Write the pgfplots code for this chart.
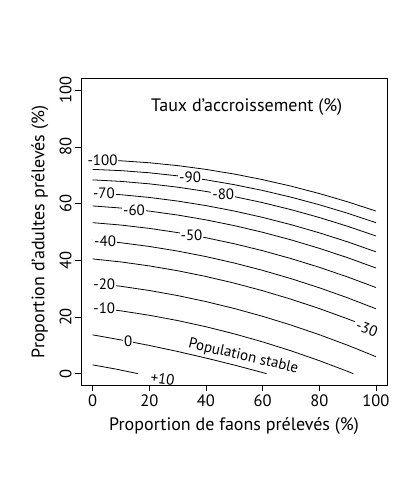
\documentclass[border=0pt]{standalone}
\usepackage{pgfplots}
\pgfplotsset{compat=1.18}
\usepackage{fontspec}
\setmainfont{PT Sans}
\begin{document}
\begin{tikzpicture}[font=\fontsize{15bp}{18bp}\selectfont]
\begin{axis}[name=ax, scale only axis, width=306bp, height=306bp,
 xmin=-4.1, xmax=103.9, ymin=-4, ymax=104,
 xtick={0,20,...,100}, ytick={0,20,...,100},
 tick pos=left,
 tick align=outside, major tick length=6bp,
 axis line style={line width=1pt}, tick style={black, line width=0.8pt},
 /pgf/number format/assume math mode=true,
 ticklabel style={font=\fontsize{16.5bp}{19bp}\selectfont},
 yticklabel style={rotate=90, anchor=south},
 label style={font=\fontsize{18bp}{21bp}\selectfont},
 xlabel={Proportion de faons prélevés (\%)},
 ylabel={Proportion d'adultes prélevés (\%)},
 xlabel style={at={(axis description cs:0.5,-0.134)}, anchor=center},
 ylabel style={at={(axis description cs:-0.134,0.5)}, anchor=center},
 clip=false,
]
\addplot[black, line width=0.8pt] coordinates {(0,75.5)(10,75.13)(20,74.44)(30,73.43)(40,72.10)(50,70.45)(60,68.48)(70,66.19)(80,63.58)(90,60.65)(100,57.4)};
\addplot[black, line width=0.8pt] coordinates {(0,72.1)(10,71.66)(20,70.90)(30,69.82)(40,68.42)(50,66.70)(60,64.66)(70,62.30)(80,59.62)(90,56.62)(100,53.3)};
\addplot[black, line width=0.8pt] coordinates {(0,68.4)(10,67.86)(20,67.00)(30,65.82)(40,64.32)(50,62.50)(60,60.36)(70,57.90)(80,55.12)(90,52.02)(100,48.6)};
\addplot[black, line width=0.8pt] coordinates {(0,63.8)(10,63.16)(20,62.20)(30,60.92)(40,59.32)(50,57.40)(60,55.16)(70,52.60)(80,49.72)(90,46.52)(100,43.0)};
\addplot[black, line width=0.8pt] coordinates {(0,59.2)(10,58.45)(20,57.38)(30,55.99)(40,54.28)(50,52.25)(60,49.90)(70,47.23)(80,44.24)(90,40.93)(100,37.3)};
\addplot[black, line width=0.8pt] coordinates {(0,53.3)(10,52.45)(20,51.28)(30,49.79)(40,47.98)(50,45.85)(60,43.40)(70,40.63)(80,37.54)(90,34.13)(100,30.4)};
\addplot[black, line width=0.8pt] coordinates {(0,47.2)(10,46.21)(20,44.90)(30,43.27)(40,41.32)(50,39.05)(60,36.46)(70,33.55)(80,30.32)(90,26.77)(100,22.9)};
\addplot[black, line width=0.8pt] coordinates {(0,40.5)(10,39.43)(20,38.04)(30,36.33)(40,34.30)(50,31.95)(60,29.28)(70,26.29)(80,22.98)(90,19.35)(92.6,18.35)};
\addplot[black, line width=0.8pt] coordinates {(0,32.0)(10,30.84)(20,29.36)(30,27.56)(40,25.44)(50,23.0)(60,20.24)(70,17.16)(80,13.76)(90,10.04)(100,6.0)};
\addplot[black, line width=0.8pt] coordinates {(0,23.4)(10,22.17)(20,20.62)(30,18.75)(40,16.56)(50,14.05)(60,11.22)(70,8.07)(80,4.60)(90,0.81)(92,0)};
\addplot[black, line width=0.8pt] coordinates {(0,13.7)(10,11.91)(20,9.96)(30,7.83)(40,5.52)(50,3.04)(60,0.39)(61.4,0)};
\addplot[black, line width=0.8pt] coordinates {(0,3.1)(8,1.66)(16,0)};
\begin{scope}[every node/.style={fill=white, inner sep=1pt}]
\node at (axis cs:3.5,75.4) {-100};
\node at (axis cs:34.4,69.24) {-90};
\node at (axis cs:46.1,63.2) {-80};
\node at (axis cs:4.0,63.6) {-70};
\node at (axis cs:14.6,57.8) {-60};
\node at (axis cs:34.9,48.9) {-50};
\node at (axis cs:4.4,46.8) {-40};
\node at (axis cs:4.1,31.6) {-20};
\node at (axis cs:4.1,23.0) {-10};
\node at (axis cs:12.6,11.4) {0};
\end{scope}
\node[rotate=-21, inner sep=1pt] at (axis cs:96.8,15.8) {-30};
\node[rotate=-8] at (axis cs:24.7,-1.9) {+10};
\node[rotate=-13] at (axis cs:53.2,6.0) {Population stable};
\node[font=\fontsize{18bp}{21bp}\selectfont] at (axis cs:54.4,94.2) {Taux d'accroissement (\%)};
\end{axis}
\path ([xshift=-81bp,yshift=-109bp]ax.south west) rectangle ([xshift=26bp,yshift=79bp]ax.north east);
\end{tikzpicture}
\end{document}
